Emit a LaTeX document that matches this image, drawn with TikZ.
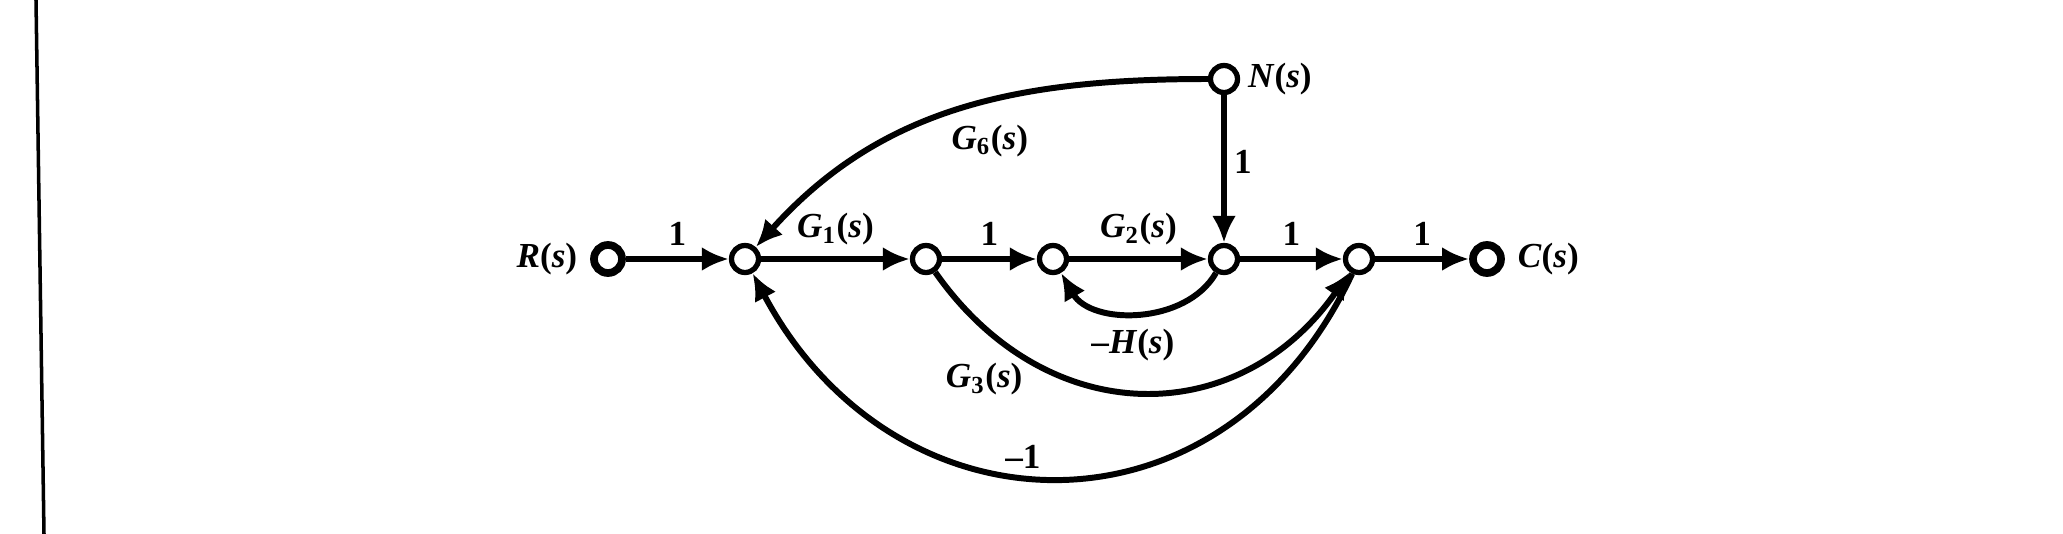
\documentclass[tikz,border=0pt]{standalone}
\usepackage{fontspec}
\setmainfont{Liberation Serif}
\usetikzlibrary{arrows.meta}

\newcommand{\tf}[2]{\textbf{\textit{#1}\textsubscript{#2}(\textit{s})}}
\newcommand{\sig}[1]{\textbf{\textit{#1}(\textit{s})}}

\begin{document}
\begin{tikzpicture}[line width=1.7pt,
  main node/.style={circle,draw,fill=white,inner sep=0pt,minimum size=2.7mm,line width=1.5pt},
  end node/.style={circle,draw,fill=white,inner sep=0pt,minimum size=2.8mm,line width=2.2pt},
  >={Latex[length=2.7mm,width=2.4mm]}]

  \useasboundingbox (0,0) rectangle (20.63,-5.34);
  \draw[line width=1pt] (0.36,0) -- (0.44,-5.34);

  \node[end node] (R) at (6.08,-2.59) {};
  \node[main node] (1) at (7.45,-2.59) {};
  \node[main node] (2) at (9.26,-2.59) {};
  \node[main node] (3) at (10.53,-2.59) {};
  \node[main node] (4) at (12.24,-2.59) {};
  \node[main node] (5) at (13.59,-2.59) {};
  \node[end node] (C) at (14.87,-2.59) {};
  \node[main node] (N) at (12.24,-0.79) {};

  \node[left=1mm,inner sep=0pt,font=\fontsize{10}{12}\selectfont] (Rl) at (R.west) {\sig{R}};
  \node[right=1mm,inner sep=0pt,font=\fontsize{10}{12}\selectfont] (Cl) at (C.east) {\sig{C}};
  \node[right=0.5mm,inner sep=0pt,font=\fontsize{10}{12}\selectfont] (Nl) at (N.east) {\sig{N}};

  \path[->,every node/.style={font=\fontsize{10}{12}\selectfont,inner sep=1pt}]
   (R) edge node[above=2pt] (a1) {\textbf{1}} (1)
   (1) edge node[above=2pt] (g1) {\tf{G}{1}} (2)
   (2) edge node[above=2pt] (a2) {\textbf{1}} (3)
   (3) edge node[above=2pt] (g2) {\tf{G}{2}} (4)
   (4) edge node[above=2pt] (a3) {\textbf{1}} (5)
   (5) edge node[above=2pt] (a4) {\textbf{1}} (C)
   (N) edge node[right=1pt,pos=0.45] (a5) {\textbf{1}} (4)
   (N) edge[out=180,in=48] node[pos=0.43,below=5pt] (g6) {\tf{G}{6}} (1)
   (4) edge[out=-120,in=-60] node[pos=0.53,below=3pt] (h) {\textbf{--\textit{H}(\textit{s})}} (3)
   (2) edge[out=-55,in=-125,looseness=1.2] node[pos=0.17,below=5pt,xshift=-4pt] (g3) {\tf{G}{3}} (5)
   (5) edge[out=-115,in=-62,looseness=1.3] node[pos=0.55,above=0pt] (m1) {\textbf{--1}} (1);
\end{tikzpicture}
\end{document}
